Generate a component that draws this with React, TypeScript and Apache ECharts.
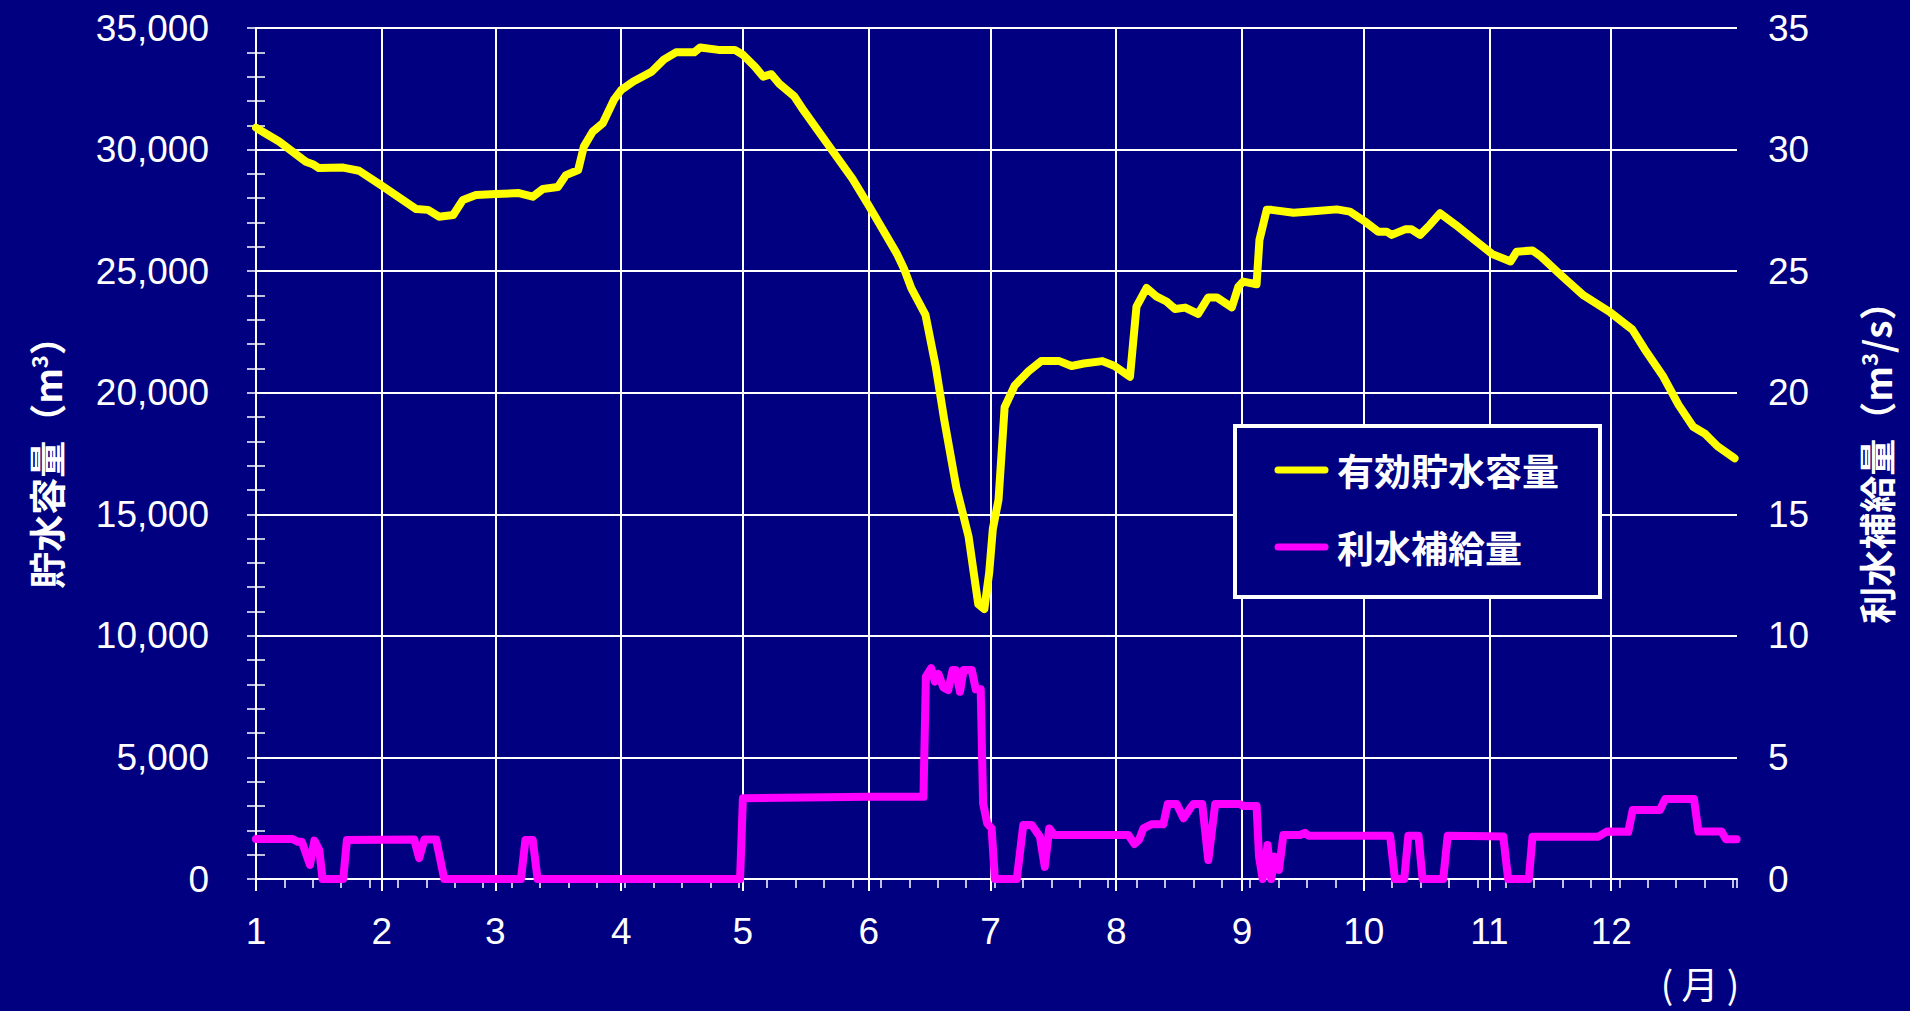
import React, { useEffect, useRef } from "react";
import * as echarts from "echarts";

// ---- data ----
const monthStarts = [0, 31, 59, 90, 120, 151, 181, 212, 243, 273, 304, 334];
const monthLabels = ["1", "2", "3", "4", "5", "6", "7", "8", "9", "10", "11", "12"];

const storageName = "有効貯水容量";
const supplyName = "利水補給量";

const storageDays = [
  0, 3.3, 5.7, 12.3, 14, 15.5, 21.5, 25.4, 30.8, 39.4, 42.4, 45.1, 48.6, 51, 54.2, 59.1, 64.8, 68.2, 70.7,
  74.4, 76.4, 79.4, 80.8, 83, 85.5, 88.2, 90, 93, 97.5, 100.5, 103.5, 108, 109.5, 114, 118, 120, 123, 125,
  127, 129, 132.6, 135, 141, 147, 151, 154.5, 158, 159.7, 161.5, 165, 167.5, 169.6, 172.6, 175.6, 178,
  179.5, 180.7, 181.6, 183, 184.5, 187, 190.5, 193.5, 198, 201, 204, 208.6, 211.6, 215.4, 217, 219.5, 222,
  224.4, 226.5, 229, 232.2, 234.7, 236.8, 240.5, 242.1, 243.3, 246.6, 247.3, 249.1, 250.3, 255.7, 259.8,
  266.4, 269.6, 273.3, 276.6, 278.7, 279.9, 283.2, 284.8, 286.9, 289.3, 291.8, 295.7, 300.2, 304.7, 309.2,
  310.7, 314.6, 316.7, 321.2, 327.2, 333.8, 339.2, 342.2, 346.7, 350.6, 354.2, 357.2, 360.2, 364.4,
];
const storageValues = [
  30900, 30570, 30330, 29500, 29400, 29240, 29260, 29130, 28540, 27560, 27520, 27240, 27310, 27930, 28130,
  28170, 28210, 28060, 28380, 28460, 28950, 29160, 30120, 30740, 31090, 32040, 32450, 32800, 33200, 33700,
  34000, 34000, 34200, 34100, 34100, 33900, 33400, 33000, 33100, 32700, 32200, 31600, 30200, 28800, 27700,
  26700, 25700, 25100, 24300, 23200, 21100, 18900, 16100, 14100, 11300, 11100, 12600, 14400, 15600, 19400,
  20300, 20900, 21300, 21300, 21100, 21200, 21300, 21100, 20660, 23540, 24310, 23950, 23750, 23440, 23500,
  23240, 23920, 23920, 23510, 24360, 24570, 24460, 26280, 27520, 27520, 27400, 27450, 27540, 27450, 27040,
  26620, 26620, 26490, 26720, 26720, 26490, 26900, 27380, 26900, 26300, 25700, 25400, 25800, 25850, 25600,
  24900, 24000, 23300, 22600, 21800, 20700, 19500, 18600, 18300, 17800, 17300,
];

const supplyDays = [
  0, 9, 10.3, 11.3, 13.3, 14.4, 15.6, 16.4, 21.5, 22.4, 39, 40.2, 41.5, 44.4, 46.4, 65.3, 66.4, 68.2, 69.4,
  119.3, 120, 151, 164.5, 165.1, 166.4, 167.3, 168.2, 169.4, 170.6, 171.7, 172.4, 173.5, 174.4, 176.4,
  177.4, 178.6, 179.2, 180.2, 181.3, 182.1, 187.5, 189.1, 191.2, 193.2, 194.4, 195.5, 196.7, 215, 216.5,
  217.6, 218.7, 220.7, 223.6, 224.7, 226.9, 228.6, 230.2, 231, 233.2, 234.7, 236.4, 242.5, 243.3, 246.6,
  247.2, 248.1, 249.3, 250.2, 251.1, 252.1, 253.2, 257.3, 258.5, 259.4, 279.5, 280.7, 283, 284, 286.5,
  287.5, 292.6, 293.7, 303.7, 307.4, 308.6, 313.7, 314.6, 330.8, 332.9, 338.2, 339.3, 346, 347.3, 354.4,
  355.5, 361.2, 362.3, 364.9,
];
const supplyValues = [
  1.65, 1.65, 1.53, 1.53, 0.58, 1.58, 1.19, 0, 0, 1.6, 1.62, 0.86, 1.62, 1.62, 0, 0, 1.6, 1.6, 0,
  0, 3.32, 3.38, 3.38, 8.32, 8.67, 8.12, 8.43, 7.88, 7.77, 8.6, 8.6, 7.7, 8.6, 8.6,
  7.8, 7.8, 3.11, 2.29, 2.08, 0, 0, 2.22, 2.22, 1.74, 0.5, 2.08, 1.81, 1.81, 1.44,
  1.6, 2.08, 2.25, 2.25, 3.08, 3.08, 2.5, 2.9, 3.08, 3.08, 0.78, 3.08, 3.08, 3.0, 3.0,
  0.92, 0, 1.4, 0, 0.92, 0.37, 1.81, 1.81, 1.9, 1.78, 1.78, 0, 0, 1.78, 1.78,
  0, 0, 1.78, 1.76, 1.75, 0, 0, 1.74, 1.74, 1.95, 1.94, 2.84, 2.84, 3.29, 3.29,
  1.95, 1.95, 1.63, 1.63,
];

const leftAxisTitle = "貯水容量（m{sup|3}）";
const rightAxisTitle = "利水補給量（m{sup|3}/s）";
const xUnitLabel = "( 月 )";

const STORAGE_COLOR = "#ffff00";
const SUPPLY_COLOR = "#ff00ff";
const NUM_FONT = "'Liberation Sans', Arial, sans-serif";
const CJK_FONT = "'Noto Sans CJK JP', sans-serif";
const WHITE = "#ffffff";
const BG = "#000080";

export default function App() {
  const ref = useRef<HTMLDivElement>(null);

  useEffect(() => {
    if (!ref.current) return;
    const chart = echarts.init(ref.current, undefined, { renderer: "svg" });

    const storageData = storageDays.map((d, i) => [d, storageValues[i]]);
    const supplyData = supplyDays.map((d, i) => [d, supplyValues[i]]);

    const titleStyle = {
      color: WHITE,
      fontSize: 37,
      fontFamily: CJK_FONT,
      fontWeight: "bold" as const,
      rich: {
        sup: { fontSize: 22, color: WHITE, fontFamily: CJK_FONT, verticalAlign: "top" as const },
      },
    };

    const legendItems = [
      { name: storageName, color: STORAGE_COLOR, y: 470 },
      { name: supplyName, color: SUPPLY_COLOR, y: 547 },
    ];

    chart.setOption({
      animation: false,
      backgroundColor: BG,
      grid: { left: 256, right: 173, top: 28, bottom: 132, containLabel: false },
      xAxis: [
        {
          type: "value",
          min: 0,
          max: 365,
          position: "bottom",
          axisLine: { show: true, onZero: false, lineStyle: { color: WHITE, width: 2 } },
          axisTick: { show: true, customValues: monthStarts, length: 12, lineStyle: { color: WHITE, width: 2 } },
          axisLabel: {
            customValues: monthStarts,
            color: WHITE,
            fontSize: 37,
            fontFamily: NUM_FONT,
            margin: 34,
            formatter: (v: number) => monthLabels[monthStarts.indexOf(v)] ?? "",
          },
          splitLine: { show: true, lineStyle: { color: WHITE, width: 2 } },
        },
        {
          type: "value",
          min: 0,
          max: 365,
          interval: 7,
          position: "bottom",
          axisLine: { show: false, onZero: false },
          axisTick: { show: true, length: 9, lineStyle: { color: WHITE, width: 1.5 } },
          axisLabel: { show: false },
          splitLine: { show: false },
        },
      ],
      yAxis: [
        {
          type: "value",
          min: 0,
          max: 35000,
          interval: 5000,
          position: "left",
          axisLine: { show: true, lineStyle: { color: WHITE, width: 2 } },
          axisTick: { show: true, length: 9, lineStyle: { color: WHITE, width: 1.5 } },
          minorTick: { show: true, splitNumber: 5, length: 9, lineStyle: { color: WHITE, width: 1.5 } },
          axisLabel: {
            color: WHITE,
            fontSize: 37,
            fontFamily: NUM_FONT,
            margin: 47,
            formatter: (v: number) => v.toLocaleString("en-US"),
          },
          splitLine: { show: true, lineStyle: { color: WHITE, width: 2 } },
          name: leftAxisTitle,
          nameLocation: "middle",
          nameRotate: 90,
          nameGap: 192,
          nameTextStyle: titleStyle,
        },
        {
          type: "value",
          min: 0,
          max: 35,
          interval: 5,
          position: "right",
          axisLine: { show: true, lineStyle: { color: WHITE, width: 2 } },
          axisTick: { show: true, length: 9, lineStyle: { color: WHITE, width: 1.5 } },
          minorTick: { show: true, splitNumber: 5, length: 9, lineStyle: { color: WHITE, width: 1.5 } },
          axisLabel: { color: WHITE, fontSize: 37, fontFamily: NUM_FONT, margin: 31 },
          splitLine: { show: false },
          name: rightAxisTitle,
          nameLocation: "middle",
          nameRotate: 90,
          nameGap: 120,
          nameTextStyle: titleStyle,
        },
      ],
      graphic: [
        {
          type: "group",
          z: 100,
          children: [
            {
              type: "rect",
              shape: { x: 1235, y: 426, width: 365, height: 171 },
              style: { fill: BG, stroke: WHITE, lineWidth: 4 },
              z: 100,
            },
            ...legendItems.flatMap((it) => [
              {
                type: "line",
                shape: { x1: 1278, y1: it.y, x2: 1325, y2: it.y },
                style: { stroke: it.color, lineWidth: 7, lineCap: "round" },
                z: 101,
              },
              {
                type: "text",
                x: 1337,
                y: it.y,
                style: {
                  text: it.name,
                  fill: WHITE,
                  fontSize: 37,
                  fontFamily: CJK_FONT,
                  fontWeight: "bold",
                  textAlign: "left",
                  textVerticalAlign: "middle",
                },
                z: 101,
              },
            ]),
          ],
        },
        {
          type: "text",
          x: 1700,
          y: 983,
          style: {
            text: xUnitLabel,
            fill: WHITE,
            fontSize: 37,
            fontFamily: CJK_FONT,
            textAlign: "center",
            textVerticalAlign: "middle",
          },
        },
      ],
      series: [
        {
          name: supplyName,
          type: "line",
          xAxisIndex: 0,
          yAxisIndex: 1,
          data: supplyData,
          showSymbol: false,
          symbol: "none",
          lineStyle: { color: SUPPLY_COLOR, width: 8, cap: "round", join: "round" },
          itemStyle: { color: SUPPLY_COLOR },
          z: 3,
        },
        {
          name: storageName,
          type: "line",
          xAxisIndex: 0,
          yAxisIndex: 0,
          data: storageData,
          showSymbol: false,
          symbol: "none",
          lineStyle: { color: STORAGE_COLOR, width: 8, cap: "round", join: "round" },
          itemStyle: { color: STORAGE_COLOR },
          z: 4,
        },
      ],
    });

    return () => chart.dispose();
  }, []);

  return (
    <div
      ref={ref}
      style={{ position: "absolute", left: 0, top: 0, width: 1910, height: 1011, background: BG }}
    />
  );
}
